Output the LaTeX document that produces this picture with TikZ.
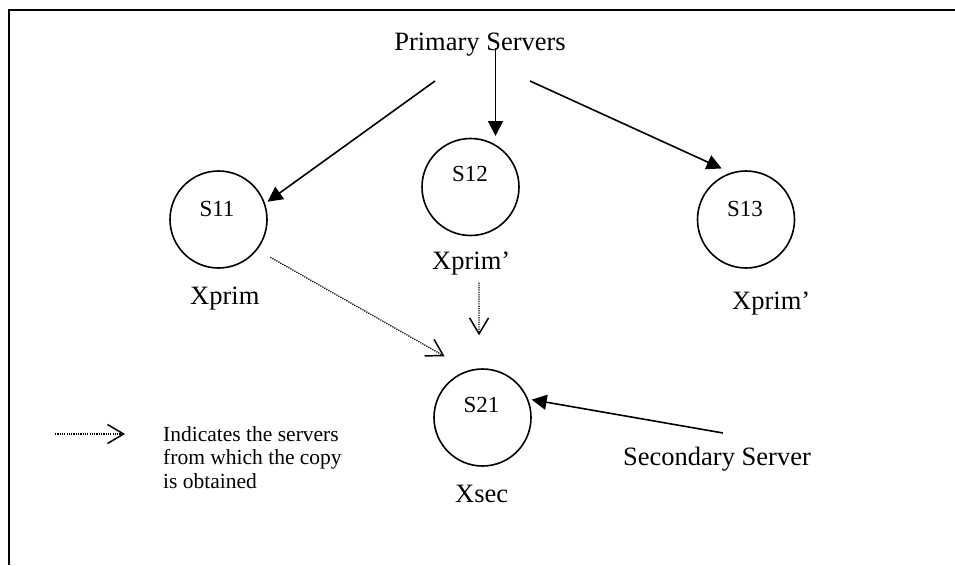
\documentclass[tikz,border=0pt]{standalone}
\usepackage{fontspec}
\setmainfont{Liberation Serif}
\usetikzlibrary{arrows.meta}
\tikzset{
  srv/.style={circle, draw, line width=1.6pt, minimum size=97pt, inner sep=0pt},
  srvtext/.style={font=\fontsize{23}{26}\selectfont, anchor=base, inner sep=0pt},
  lbl/.style={font=\fontsize{26.5}{30}\selectfont, inner sep=0pt},
  solidarr/.style={line width=1.6pt, -{Triangle[length=15pt,width=15pt]}},
  dotarr/.style={line width=1.3pt, dash pattern=on 1.2pt off 1.1pt,
     -{Straight Barb[length=16pt,width=19pt,line width=1.5pt]}},
  frameline/.style={line width=2pt}
}
\begin{document}
\begin{tikzpicture}[x=1pt,y=-1pt]
\useasboundingbox (0,0) rectangle (955,565);
% frame
\coordinate (fa) at (955,10);
\coordinate (fb) at (9,10);
\coordinate (fc) at (9,565);
\draw[frameline] (fa) -- (fb) -- (fc);

% servers
\node[srv] (s11) at (218.5,219.5) {};
\node[srv] (s12) at (470.5,187) {};
\node[srv] (s13) at (746,219.5) {};
\node[srv] (s21) at (482.5,417.5) {};
\node[srvtext] (t11) at (217,216) {S11};
\node[srvtext] (t12) at (470,181) {S12};
\node[srvtext] (t13) at (745,216) {S13};
\node[srvtext] (t21) at (481.5,412) {S21};

% labels
\node[lbl, anchor=base] (prim) at (480,50) {Primary Servers};
\node[lbl, anchor=base west] (x11) at (190,304) {Xprim};
\node[lbl, anchor=base west] (x12) at (432,269) {Xprim’};
\node[lbl, anchor=base west] (x13) at (732,309) {Xprim’};
\node[lbl, anchor=base west] (xsec) at (455,502) {Xsec};
\node[lbl, anchor=base west] (sec) at (623,465) {Secondary Server};
\node[font=\fontsize{21.5}{23.5}\selectfont, align=left, anchor=north west, inner sep=0pt]
  (legend) at (163,426) {Indicates the servers\\from which the copy\\is obtained};

% solid connectors
\coordinate (p1) at (435,81);
\coordinate (p2) at (495.5,48);
\coordinate (p3) at (530,81);
\coordinate (q1) at (723,433);
\draw[solidarr, shorten >=3pt] (p1) -- (s11.19);
\draw[solidarr] (p2) -- (p2 |- 0,136);
\draw[solidarr, shorten >=10pt] (p3) -- (s13.108);
\draw[solidarr, shorten >=3.5pt] (q1) -- (s21.22);

% dotted connectors
\draw[dotarr, shorten <=15pt, shorten >=28pt] (s11.-38) -- (s21.106);
\draw[dotarr, shorten <=47pt, shorten >=33pt] (s12.-80) -- (s21.94);

% legend arrow
\coordinate (l1) at (55,434);
\coordinate (l2) at (125,434);
\draw[dotarr] (l1) -- (l2);
\end{tikzpicture}
\end{document}
